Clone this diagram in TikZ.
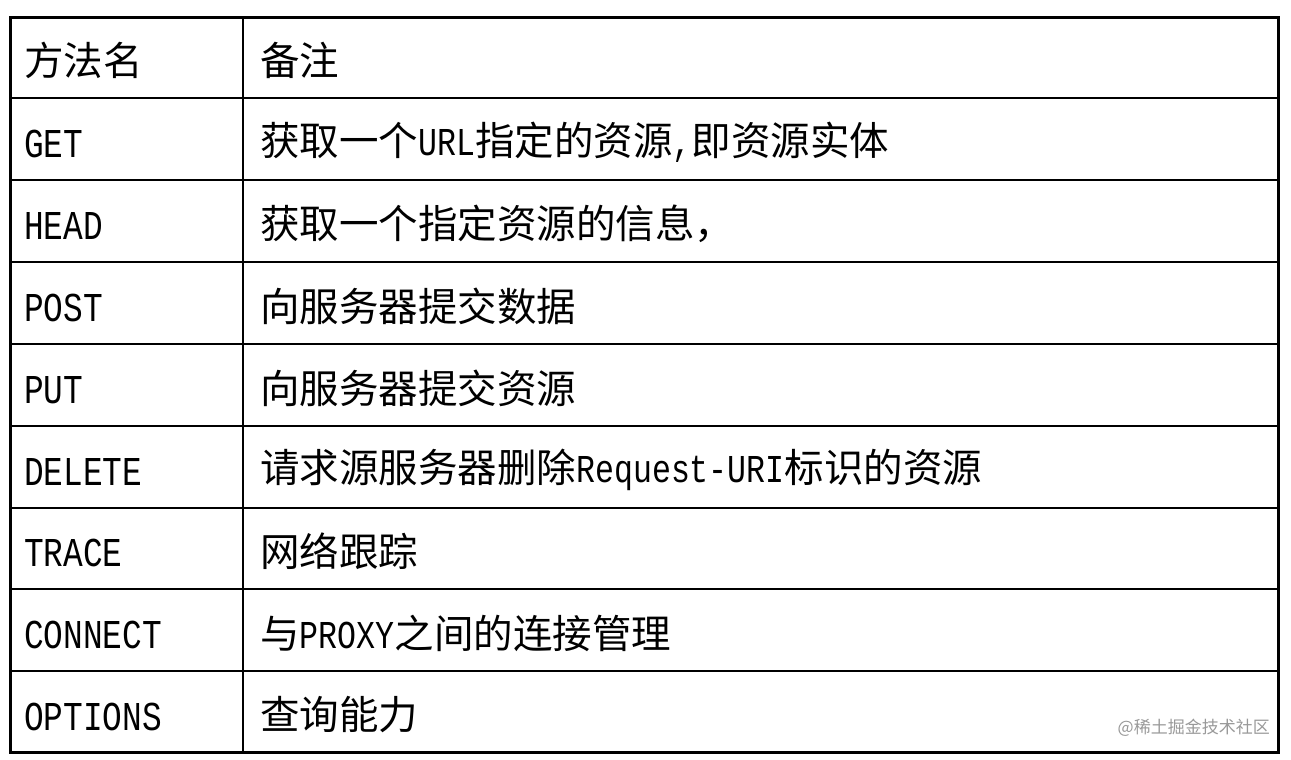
\documentclass[tikz,border=0pt]{standalone}
\usepackage{fontspec}
\newfontfamily\cjk{Noto Sans CJK SC}
\newfontfamily\lat[FakeStretch=0.8]{Liberation Mono}
\newcommand{\LT}[1]{{\lat #1}}
\begin{document}
\begin{tikzpicture}[x=1pt,y=-1pt,
  cell/.style={anchor=west,inner sep=0pt,font=\cjk\fontsize{39.5}{40}\selectfont},
  mcell/.style={anchor=west,inner sep=0pt,font=\lat\fontsize{41}{41}\selectfont},
  grid/.style={line width=1.8pt,black},
  outer/.style={line width=3pt,black}]
\useasboundingbox (0,0) rectangle (1291,760);
\fill[white] (0,0) rectangle (1291,760);
\coordinate (tl) at (10,18);
\coordinate (br) at (1278,752);
\foreach \y in {98,180,262,344,426,508,589,671}
  \draw[grid] (10,\y) -- (1278,\y);
\draw[grid] (243,18) -- (243,752);
\draw[outer] (tl) rectangle (br);
\node[cell] (h1) at (24,60) {方法名};
\node[cell] (h2) at (260,60) {备注};
\node[mcell] (m1) at (24,144) {GET};
\node[cell] (r1) at (260,142) {获取一个\LT{URL}指定的资源\LT{,}即资源实体};
\node[mcell] (m2) at (24,226) {HEAD};
\node[cell] (r2) at (260,224) {获取一个指定资源的信息，};
\node[mcell] (m3) at (24,308) {POST};
\node[cell] (r3) at (260,306) {向服务器提交数据};
\node[mcell] (m4) at (24,390) {PUT};
\node[cell] (r4) at (260,388) {向服务器提交资源};
\node[mcell] (m5) at (24,472) {DELETE};
\node[cell] (r5) at (260,470) {请求源服务器删除\LT{Request-URI}标识的资源};
\node[mcell] (m6) at (24,553) {TRACE};
\node[cell] (r6) at (260,551) {网络跟踪};
\node[mcell] (m7) at (24,635) {CONNECT};
\node[cell] (r7) at (260,633) {与\LT{PROXY}之间的连接管理};
\node[mcell] (m8) at (24,717) {OPTIONS};
\node[cell] (r8) at (260,715) {查询能力};
\node[anchor=east,inner sep=0pt,text=gray!80,font=\cjk\fontsize{17}{17}\selectfont] (wm) at (1270,728) {@稀土掘金技术社区};
\end{tikzpicture}
\end{document}
